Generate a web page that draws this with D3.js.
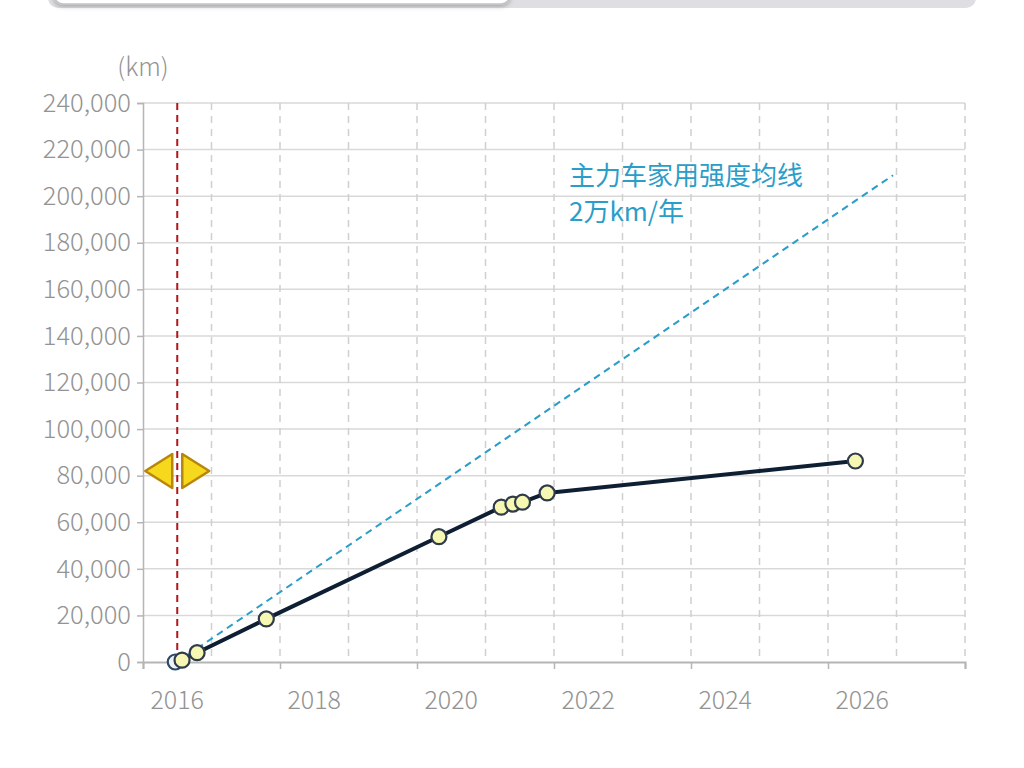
<!DOCTYPE html>
<html>
<head>
<meta charset="utf-8">
<script src="https://cdn.jsdelivr.net/npm/d3@7"></script>
<style>
  html, body { margin: 0; padding: 0; background: #fff; }
  svg { display: block; font-family: "Noto Sans CJK SC", "Noto Sans", sans-serif; }
</style>
</head>
<body>
<div id="chart"></div>
<script>
// mileage records (decimal year, km)
const years = [2016.0, 2016.07, 2016.29, 2017.30, 2019.82, 2020.73, 2020.90, 2021.04, 2021.40, 2025.90];
const km = [0, 800, 4000, 18500, 53800, 66500, 67800, 68600, 72600, 86300];

// average line, 20,000 km / year
const refYears = [2016.0, 2026.45];
const refKm = [0, 209000];

const yTicks = [0, 20000, 40000, 60000, 80000, 100000, 120000, 140000, 160000, 180000, 200000, 220000, 240000];
const xLabels = [2016, 2018, 2020, 2022, 2024, 2026];
const refLabel = ["主力车家用强度均线", "2万km/年"];
const markerYear = 2016.0;

const width = 1024, height = 768;
const plotLeft = 143, plotRight = 965, plotTop = 103, plotBottom = 662;
const labelColor = "#939393";
const fontFamily = '"Noto Sans CJK SC", "Noto Sans", sans-serif';

const svg = d3.select("#chart").append("svg")
    .attr("width", width)
    .attr("height", height);

// tab bar at the top (cut off)
const defs = svg.append("defs");
const sh = defs.append("filter").attr("id", "shadow").attr("x", "-5%").attr("y", "-50%").attr("width", "110%").attr("height", "300%");
sh.append("feDropShadow").attr("dx", 0).attr("dy", 2).attr("stdDeviation", 2).attr("flood-color", "#000").attr("flood-opacity", 0.25);

svg.append("rect").attr("x", 48).attr("y", -30).attr("width", 928).attr("height", 38)
    .attr("rx", 10).attr("fill", "#dedee3");
svg.append("rect").attr("x", 54).attr("y", -30).attr("width", 456).attr("height", 34)
    .attr("rx", 9).attr("fill", "#fff").attr("stroke", "#c4c4c4").attr("stroke-width", 1.5)
    .attr("filter", "url(#shadow)");

const x = d3.scaleLinear().domain([2015.5, 2027.5]).range([plotLeft, plotRight]);
const y = d3.scaleLinear().domain([0, 240000]).range([plotBottom, plotTop]);

// horizontal grid
svg.append("g")
    .selectAll("line")
    .data(yTicks.slice(1))
    .join("line")
    .attr("x1", plotLeft).attr("x2", plotRight)
    .attr("y1", d => y(d)).attr("y2", d => y(d))
    .attr("stroke", "#d9d9d9").attr("stroke-width", 1.5);

// vertical grid (dashed, on year boundaries)
const vGrid = d3.range(2016.5, 2027.6, 1);
svg.append("g")
    .selectAll("line")
    .data(vGrid)
    .join("line")
    .attr("x1", d => x(d)).attr("x2", d => x(d))
    .attr("y1", plotTop).attr("y2", plotBottom)
    .attr("stroke", "#d0d0d0").attr("stroke-width", 1.5)
    .attr("stroke-dasharray", "7,6");

// y axis
const yAxis = svg.append("g")
    .attr("transform", `translate(${plotLeft},0)`)
    .call(d3.axisLeft(y).tickValues(yTicks).tickSize(6).tickPadding(6)
        .tickFormat(d3.format(",")))
    .attr("font-family", fontFamily);
yAxis.select(".domain").attr("stroke", "#b5b5b5").attr("stroke-width", 1.5);
yAxis.selectAll(".tick line").attr("stroke", "#b5b5b5").attr("stroke-width", 1.5);
yAxis.selectAll("text").attr("fill", labelColor)
    .style("font-size", "25.5px").style("font-weight", 300);

// x axis: ticks every two years on boundaries, labels centred on years
const xAxis = svg.append("g")
    .attr("transform", `translate(0,${plotBottom})`)
    .call(d3.axisBottom(x).tickValues(d3.range(2015.5, 2027.6, 2)).tickSize(7).tickFormat(""));
xAxis.select(".domain").attr("stroke", "#b5b5b5").attr("stroke-width", 2);
xAxis.selectAll(".tick line").attr("stroke", "#b5b5b5").attr("stroke-width", 1.5);

svg.append("g")
    .selectAll("text")
    .data(xLabels)
    .join("text")
    .attr("x", d => x(d))
    .attr("y", plotBottom + 47)
    .attr("text-anchor", "middle")
    .attr("fill", labelColor)
    .style("font-size", "25px")
    .style("font-weight", 300)
    .text(d => d);

// unit
svg.append("text")
    .attr("x", plotLeft)
    .attr("y", 76)
    .attr("text-anchor", "middle")
    .attr("fill", labelColor)
    .style("font-size", "25px")
    .style("font-weight", 300)
    .text("(km)");

// average reference line
svg.append("line")
    .attr("x1", x(refYears[0])).attr("y1", y(refKm[0]))
    .attr("x2", x(refYears[1])).attr("y2", y(refKm[1]))
    .attr("stroke", "#2a9dc8").attr("stroke-width", 2)
    .attr("stroke-dasharray", "7,5");

svg.append("g")
    .selectAll("text")
    .data(refLabel)
    .join("text")
    .attr("x", 569)
    .attr("y", (d, i) => 185 + i * 36)
    .attr("fill", "#2a9dc8")
    .style("font-size", "26px")
    .text(d => d);

// marker line
svg.append("line")
    .attr("x1", x(markerYear)).attr("x2", x(markerYear))
    .attr("y1", plotTop).attr("y2", plotBottom)
    .attr("stroke", "#b3151b").attr("stroke-width", 2)
    .attr("stroke-dasharray", "7,5");

// drag handles
const hy = y(82000);
const mx = x(markerYear);
const handles = [
    [[mx - 32, hy], [mx - 5, hy - 17], [mx - 5, hy + 17]],
    [[mx + 5, hy - 17], [mx + 5, hy + 17], [mx + 32, hy]]
];
svg.append("g")
    .selectAll("path")
    .data(handles)
    .join("path")
    .attr("d", d => "M" + d.join("L") + "Z")
    .attr("fill", "#f6d81c")
    .attr("stroke", "#b8860b")
    .attr("stroke-width", 2.5)
    .attr("stroke-linejoin", "round");

// mileage line
const data = years.map((d, i) => ({ year: d, km: km[i] }));
svg.append("path")
    .datum(data)
    .attr("fill", "none")
    .attr("stroke", "#0f1f33")
    .attr("stroke-width", 4)
    .attr("stroke-linejoin", "round")
    .attr("d", d3.line().x(d => x(d.year)).y(d => y(d.km)));

svg.append("g")
    .selectAll("circle")
    .data(data)
    .join("circle")
    .attr("cx", (d, i) => i === 0 ? x(d.year) - 2 : x(d.year))
    .attr("cy", d => y(d.km))
    .attr("r", 7.5)
    .attr("fill", (d, i) => i === 0 ? "#eef3f8" : "#f7f7b4")
    .attr("stroke", (d, i) => i === 0 ? "#2b4a6b" : "#2f3b4a")
    .attr("stroke-width", 2.2);
</script>
</body>
</html>
